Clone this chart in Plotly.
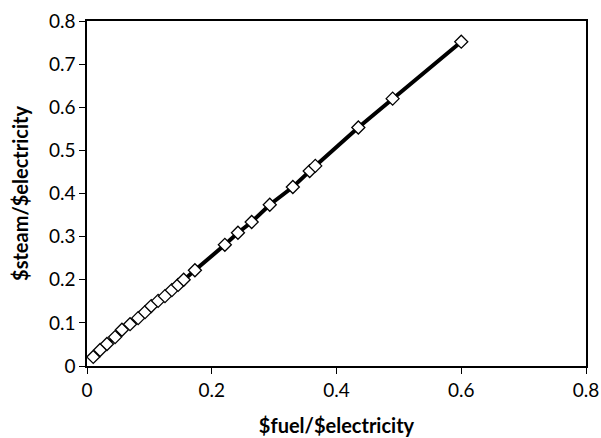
import plotly.graph_objects as go

fuel_ratio = [0.010, 0.021, 0.032, 0.045, 0.056, 0.069, 0.082, 0.093, 0.103, 0.114,
              0.125, 0.136, 0.146, 0.155, 0.173, 0.221, 0.242, 0.264, 0.293, 0.330,
              0.357, 0.366, 0.435, 0.490, 0.600]
steam_ratio = [0.021, 0.037, 0.051, 0.067, 0.084, 0.097, 0.111, 0.125, 0.139, 0.151,
               0.162, 0.176, 0.188, 0.200, 0.222, 0.281, 0.309, 0.334, 0.374, 0.415,
               0.452, 0.464, 0.553, 0.620, 0.752]

x_ticks = [0, 0.2, 0.4, 0.6, 0.8]
y_ticks = [0, 0.1, 0.2, 0.3, 0.4, 0.5, 0.6, 0.7, 0.8]

FONT = "Lato, Open Sans, sans-serif"

fig = go.Figure()
fig.add_trace(go.Scatter(
    x=fuel_ratio, y=steam_ratio, mode="lines+markers",
    line=dict(color="black", width=4),
    marker=dict(symbol="diamond", size=10, color="white",
                line=dict(color="black", width=1.3)),
    showlegend=False,
))

axis_common = dict(
    showgrid=False, zeroline=False, showline=True, linecolor="black", linewidth=1.5,
    mirror=True, ticks="outside", ticklen=6, tickwidth=1.3, tickcolor="black",
    tickfont=dict(family=FONT, size=19, color="black"), automargin=False,
)

fig.update_layout(
    width=601, height=438,
    margin=dict(l=87, r=15, t=21, b=72),
    paper_bgcolor="white", plot_bgcolor="white",
    xaxis=dict(range=[0, 0.8], tickvals=x_ticks, ticktext=[f"{v:g}" for v in x_ticks],
               title=dict(text="<b>$fuel/$electricity</b>", standoff=19,
                          font=dict(family=FONT, size=20, color="black")),
               **axis_common),
    yaxis=dict(range=[0, 0.8], tickvals=y_ticks, ticktext=[f"{v:g}" for v in y_ticks],
               title=dict(text="<b>$steam/$electricity</b>", standoff=15,
                          font=dict(family=FONT, size=20, color="black")),
               **axis_common),
)

fig.write_html("out.html")
